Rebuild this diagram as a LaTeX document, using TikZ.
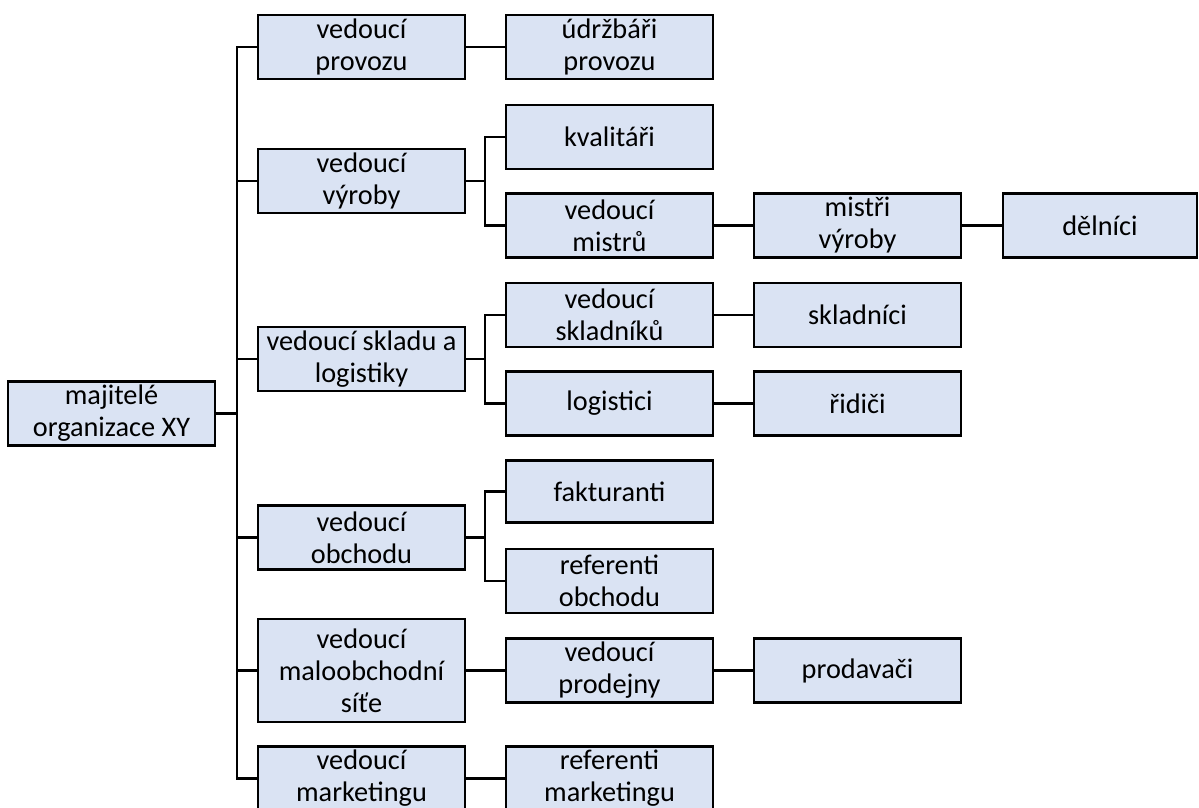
\documentclass[tikz,border=0pt]{standalone}
\usepackage{fontspec}
\setmainfont{Carlito}
\definecolor{boxfill}{HTML}{DAE3F3}
\begin{document}
\begin{tikzpicture}[x=1pt,y=-1pt,
  orgbox/.style={draw=black,fill=boxfill,line width=2.6pt,minimum width=207pt,minimum height=64pt,
    inner sep=0pt,align=center,font=\fontsize{28.3}{32}\selectfont},
  conn/.style={line width=2.6pt}]
\useasboundingbox (0,0) rectangle (1199,807);
\clip (0,0) rectangle (1199,807);
% root
\node[orgbox] (root) at (111.5,413.5) {majitelé\\organizace XY};
% level 1
\node[orgbox] (provoz) at (361.5,47) {vedoucí\\provozu};
\node[orgbox] (vyroba) at (361.5,181) {vedoucí\\výroby};
\node[orgbox] (sklad) at (361.5,359) {vedoucí skladu a\\logistiky};
\node[orgbox] (obchod) at (361.5,537.5) {vedoucí\\obchodu};
\node[orgbox,minimum height=103pt] (malo) at (361.5,670.5) {vedoucí\\maloobchodní\\síťe};
\node[orgbox] (market) at (361.5,778.5) {vedoucí\\marketingu};
% level 2
\node[orgbox] (udrz) at (609.5,47) {údržbáři\\provozu};
\node[orgbox] (kval) at (609.5,137) {kvalitáři};
\node[orgbox] (mistru) at (609.5,225.5) {vedoucí\\mistrů};
\node[orgbox] (skladniku) at (609.5,315) {vedoucí\\skladníků};
\node[orgbox] (logist) at (609.5,403.5) {logistici};
\node[orgbox,minimum height=62pt] (faktur) at (609.5,491.5) {fakturanti};
\node[orgbox] (refobch) at (609.5,581) {referenti\\obchodu};
\node[orgbox] (prodejny) at (609.5,670.5) {vedoucí\\prodejny};
\node[orgbox] (refmark) at (609.5,778.5) {referenti\\marketingu};
% level 3
\node[orgbox] (mistri) at (857.5,225.5) {mistři\\výroby};
\node[orgbox] (skladnici) at (857.5,315) {skladníci};
\node[orgbox] (ridici) at (857.5,403.5) {řidiči};
\node[orgbox] (prodavaci) at (857.5,670.5) {prodavači};
% level 4
\node[orgbox,minimum width=194pt] (delnici) at (1100,225.5) {dělníci};
% trunk
\coordinate (tr) at (237,0);
\coordinate (jn) at (485,0);
\draw[conn] (provoz.west) -- (provoz.west -| tr) -- (market.west -| tr) -- (market.west);
\draw[conn] (root.east) -- (root.east -| tr);
\draw[conn] (vyroba.west) -- (vyroba.west -| tr);
\draw[conn] (sklad.west) -- (sklad.west -| tr);
\draw[conn] (obchod.west) -- (obchod.west -| tr);
\draw[conn] (malo.west) -- (malo.west -| tr);
% single links
\draw[conn] (provoz.east) -- (udrz.west);
\draw[conn] (malo.east) -- (prodejny.west);
\draw[conn] (market.east) -- (refmark.west);
\draw[conn] (mistru.east) -- (mistri.west);
\draw[conn] (mistri.east) -- (delnici.west);
\draw[conn] (skladniku.east) -- (skladnici.west);
\draw[conn] (logist.east) -- (ridici.west);
\draw[conn] (prodejny.east) -- (prodavaci.west);
% branches
\draw[conn] (kval.west) -- (kval.west -| jn) -- (mistru.west -| jn) -- (mistru.west);
\draw[conn] (vyroba.east) -- (vyroba.east -| jn);
\draw[conn] (skladniku.west) -- (skladniku.west -| jn) -- (logist.west -| jn) -- (logist.west);
\draw[conn] (sklad.east) -- (sklad.east -| jn);
\draw[conn] (faktur.west) -- (faktur.west -| jn) -- (refobch.west -| jn) -- (refobch.west);
\draw[conn] (obchod.east) -- (obchod.east -| jn);
\end{tikzpicture}
\end{document}
